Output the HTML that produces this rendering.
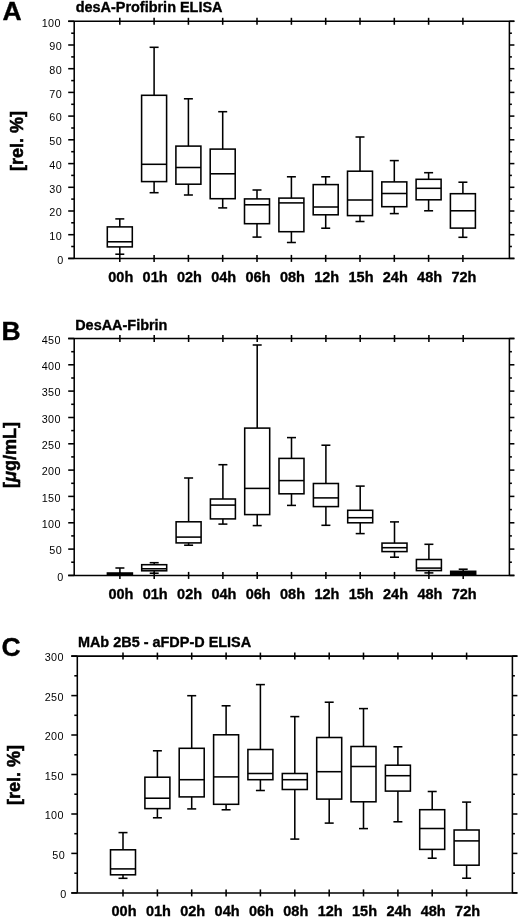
<!DOCTYPE html>
<html><head><meta charset="utf-8"><title>Figure</title>
<style>
html,body{margin:0;padding:0;background:#fff;}
body{width:520px;height:918px;overflow:hidden;}
svg{display:block;will-change:transform;font-family:"Liberation Sans",sans-serif;}
svg line, svg rect{stroke:#000;}
svg text{fill:#000;}
svg text.hv{stroke:#000;stroke-width:0.35px;}
svg text.yl{stroke-width:0.55px;}
</style></head><body>
<svg width="520" height="918" viewBox="0 0 520 918">
<rect x="0" y="0" width="520" height="918" fill="#fff" stroke="none" style="stroke:none"/>
<text x="2.6" y="19.6" font-size="26.5" font-weight="bold" text-anchor="start" class="hv">A</text>
<text x="75.7" y="12.3" font-size="14.45" font-weight="bold" text-anchor="start" class="hv">desA-Profibrin ELISA</text>
<line x1="68.2" y1="21.3" x2="514.4" y2="21.3" stroke-width="1.55"/>
<line x1="68.2" y1="258.4" x2="514.4" y2="258.4" stroke-width="1.55"/>
<line x1="74.2" y1="21.3" x2="74.2" y2="258.4" stroke-width="1.55"/>
<line x1="509.4" y1="21.3" x2="509.4" y2="258.4" stroke-width="1.55"/>
<line x1="68.2" y1="258.4" x2="74.2" y2="258.4" stroke-width="1.55"/>
<line x1="509.4" y1="258.4" x2="514.4" y2="258.4" stroke-width="1.55"/>
<text x="63.6" y="263.6" font-size="10.8" font-weight="normal" text-anchor="end" letter-spacing="0.45">0</text>
<line x1="71.2" y1="246.5" x2="74.2" y2="246.5" stroke-width="1.55"/>
<line x1="509.4" y1="246.5" x2="511.9" y2="246.5" stroke-width="1.55"/>
<line x1="68.2" y1="234.7" x2="74.2" y2="234.7" stroke-width="1.55"/>
<line x1="509.4" y1="234.7" x2="514.4" y2="234.7" stroke-width="1.55"/>
<text x="62.1" y="239.9" font-size="10.8" font-weight="normal" text-anchor="end" letter-spacing="0.45">10</text>
<line x1="71.2" y1="222.8" x2="74.2" y2="222.8" stroke-width="1.55"/>
<line x1="509.4" y1="222.8" x2="511.9" y2="222.8" stroke-width="1.55"/>
<line x1="68.2" y1="211.0" x2="74.2" y2="211.0" stroke-width="1.55"/>
<line x1="509.4" y1="211.0" x2="514.4" y2="211.0" stroke-width="1.55"/>
<text x="62.1" y="216.2" font-size="10.8" font-weight="normal" text-anchor="end" letter-spacing="0.45">20</text>
<line x1="71.2" y1="199.1" x2="74.2" y2="199.1" stroke-width="1.55"/>
<line x1="509.4" y1="199.1" x2="511.9" y2="199.1" stroke-width="1.55"/>
<line x1="68.2" y1="187.3" x2="74.2" y2="187.3" stroke-width="1.55"/>
<line x1="509.4" y1="187.3" x2="514.4" y2="187.3" stroke-width="1.55"/>
<text x="62.1" y="192.5" font-size="10.8" font-weight="normal" text-anchor="end" letter-spacing="0.45">30</text>
<line x1="71.2" y1="175.4" x2="74.2" y2="175.4" stroke-width="1.55"/>
<line x1="509.4" y1="175.4" x2="511.9" y2="175.4" stroke-width="1.55"/>
<line x1="68.2" y1="163.6" x2="74.2" y2="163.6" stroke-width="1.55"/>
<line x1="509.4" y1="163.6" x2="514.4" y2="163.6" stroke-width="1.55"/>
<text x="62.1" y="168.8" font-size="10.8" font-weight="normal" text-anchor="end" letter-spacing="0.45">40</text>
<line x1="71.2" y1="151.7" x2="74.2" y2="151.7" stroke-width="1.55"/>
<line x1="509.4" y1="151.7" x2="511.9" y2="151.7" stroke-width="1.55"/>
<line x1="68.2" y1="139.8" x2="74.2" y2="139.8" stroke-width="1.55"/>
<line x1="509.4" y1="139.8" x2="514.4" y2="139.8" stroke-width="1.55"/>
<text x="62.1" y="145.0" font-size="10.8" font-weight="normal" text-anchor="end" letter-spacing="0.45">50</text>
<line x1="71.2" y1="128.0" x2="74.2" y2="128.0" stroke-width="1.55"/>
<line x1="509.4" y1="128.0" x2="511.9" y2="128.0" stroke-width="1.55"/>
<line x1="68.2" y1="116.1" x2="74.2" y2="116.1" stroke-width="1.55"/>
<line x1="509.4" y1="116.1" x2="514.4" y2="116.1" stroke-width="1.55"/>
<text x="62.1" y="121.3" font-size="10.8" font-weight="normal" text-anchor="end" letter-spacing="0.45">60</text>
<line x1="71.2" y1="104.3" x2="74.2" y2="104.3" stroke-width="1.55"/>
<line x1="509.4" y1="104.3" x2="511.9" y2="104.3" stroke-width="1.55"/>
<line x1="68.2" y1="92.4" x2="74.2" y2="92.4" stroke-width="1.55"/>
<line x1="509.4" y1="92.4" x2="514.4" y2="92.4" stroke-width="1.55"/>
<text x="62.1" y="97.6" font-size="10.8" font-weight="normal" text-anchor="end" letter-spacing="0.45">70</text>
<line x1="71.2" y1="80.6" x2="74.2" y2="80.6" stroke-width="1.55"/>
<line x1="509.4" y1="80.6" x2="511.9" y2="80.6" stroke-width="1.55"/>
<line x1="68.2" y1="68.7" x2="74.2" y2="68.7" stroke-width="1.55"/>
<line x1="509.4" y1="68.7" x2="514.4" y2="68.7" stroke-width="1.55"/>
<text x="62.1" y="73.9" font-size="10.8" font-weight="normal" text-anchor="end" letter-spacing="0.45">80</text>
<line x1="71.2" y1="56.9" x2="74.2" y2="56.9" stroke-width="1.55"/>
<line x1="509.4" y1="56.9" x2="511.9" y2="56.9" stroke-width="1.55"/>
<line x1="68.2" y1="45.0" x2="74.2" y2="45.0" stroke-width="1.55"/>
<line x1="509.4" y1="45.0" x2="514.4" y2="45.0" stroke-width="1.55"/>
<text x="62.1" y="50.2" font-size="10.8" font-weight="normal" text-anchor="end" letter-spacing="0.45">90</text>
<line x1="71.2" y1="33.2" x2="74.2" y2="33.2" stroke-width="1.55"/>
<line x1="509.4" y1="33.2" x2="511.9" y2="33.2" stroke-width="1.55"/>
<line x1="68.2" y1="21.3" x2="74.2" y2="21.3" stroke-width="1.55"/>
<line x1="509.4" y1="21.3" x2="514.4" y2="21.3" stroke-width="1.55"/>
<text x="61.0" y="26.5" font-size="10.8" font-weight="normal" text-anchor="end" letter-spacing="0.45">100</text>
<line x1="119.8" y1="17.8" x2="119.8" y2="24.8" stroke-width="1.55"/>
<line x1="119.8" y1="254.9" x2="119.8" y2="261.9" stroke-width="1.55"/>
<text x="120.8" y="281.5" font-size="14.5" font-weight="bold" text-anchor="middle" class="hv">00h</text>
<line x1="154.1" y1="17.8" x2="154.1" y2="24.8" stroke-width="1.55"/>
<line x1="154.1" y1="254.9" x2="154.1" y2="261.9" stroke-width="1.55"/>
<text x="155.1" y="281.5" font-size="14.5" font-weight="bold" text-anchor="middle" class="hv">01h</text>
<line x1="188.4" y1="17.8" x2="188.4" y2="24.8" stroke-width="1.55"/>
<line x1="188.4" y1="254.9" x2="188.4" y2="261.9" stroke-width="1.55"/>
<text x="189.4" y="281.5" font-size="14.5" font-weight="bold" text-anchor="middle" class="hv">02h</text>
<line x1="222.7" y1="17.8" x2="222.7" y2="24.8" stroke-width="1.55"/>
<line x1="222.7" y1="254.9" x2="222.7" y2="261.9" stroke-width="1.55"/>
<text x="223.7" y="281.5" font-size="14.5" font-weight="bold" text-anchor="middle" class="hv">04h</text>
<line x1="257.0" y1="17.8" x2="257.0" y2="24.8" stroke-width="1.55"/>
<line x1="257.0" y1="254.9" x2="257.0" y2="261.9" stroke-width="1.55"/>
<text x="258.0" y="281.5" font-size="14.5" font-weight="bold" text-anchor="middle" class="hv">06h</text>
<line x1="291.4" y1="17.8" x2="291.4" y2="24.8" stroke-width="1.55"/>
<line x1="291.4" y1="254.9" x2="291.4" y2="261.9" stroke-width="1.55"/>
<text x="292.4" y="281.5" font-size="14.5" font-weight="bold" text-anchor="middle" class="hv">08h</text>
<line x1="325.7" y1="17.8" x2="325.7" y2="24.8" stroke-width="1.55"/>
<line x1="325.7" y1="254.9" x2="325.7" y2="261.9" stroke-width="1.55"/>
<text x="326.7" y="281.5" font-size="14.5" font-weight="bold" text-anchor="middle" class="hv">12h</text>
<line x1="360.0" y1="17.8" x2="360.0" y2="24.8" stroke-width="1.55"/>
<line x1="360.0" y1="254.9" x2="360.0" y2="261.9" stroke-width="1.55"/>
<text x="361.0" y="281.5" font-size="14.5" font-weight="bold" text-anchor="middle" class="hv">15h</text>
<line x1="394.3" y1="17.8" x2="394.3" y2="24.8" stroke-width="1.55"/>
<line x1="394.3" y1="254.9" x2="394.3" y2="261.9" stroke-width="1.55"/>
<text x="395.3" y="281.5" font-size="14.5" font-weight="bold" text-anchor="middle" class="hv">24h</text>
<line x1="428.6" y1="17.8" x2="428.6" y2="24.8" stroke-width="1.55"/>
<line x1="428.6" y1="254.9" x2="428.6" y2="261.9" stroke-width="1.55"/>
<text x="429.6" y="281.5" font-size="14.5" font-weight="bold" text-anchor="middle" class="hv">48h</text>
<line x1="462.9" y1="17.8" x2="462.9" y2="24.8" stroke-width="1.55"/>
<line x1="462.9" y1="254.9" x2="462.9" y2="261.9" stroke-width="1.55"/>
<text x="463.9" y="281.5" font-size="14.5" font-weight="bold" text-anchor="middle" class="hv">72h</text>
<text transform="translate(23.1,141) rotate(-90)" font-size="18" font-weight="bold" text-anchor="middle" class="hv yl">[rel. %]</text>
<line x1="119.8" y1="218.9" x2="119.8" y2="226.9" stroke-width="1.55"/>
<line x1="115.3" y1="218.9" x2="124.3" y2="218.9" stroke-width="1.55"/>
<line x1="119.8" y1="246.9" x2="119.8" y2="254.2" stroke-width="1.55"/>
<line x1="115.3" y1="254.2" x2="124.3" y2="254.2" stroke-width="1.55"/>
<rect x="107.3" y="226.9" width="25.0" height="20.0" fill="none" stroke-width="1.55"/>
<line x1="107.3" y1="241.8" x2="132.3" y2="241.8" stroke-width="1.55"/>
<line x1="154.1" y1="47.3" x2="154.1" y2="95.3" stroke-width="1.55"/>
<line x1="149.6" y1="47.3" x2="158.6" y2="47.3" stroke-width="1.55"/>
<line x1="154.1" y1="181.6" x2="154.1" y2="192.7" stroke-width="1.55"/>
<line x1="149.6" y1="192.7" x2="158.6" y2="192.7" stroke-width="1.55"/>
<rect x="141.6" y="95.3" width="25.0" height="86.3" fill="none" stroke-width="1.55"/>
<line x1="141.6" y1="164.3" x2="166.6" y2="164.3" stroke-width="1.55"/>
<line x1="188.4" y1="98.8" x2="188.4" y2="146.1" stroke-width="1.55"/>
<line x1="183.9" y1="98.8" x2="192.9" y2="98.8" stroke-width="1.55"/>
<line x1="188.4" y1="184.2" x2="188.4" y2="195.0" stroke-width="1.55"/>
<line x1="183.9" y1="195.0" x2="192.9" y2="195.0" stroke-width="1.55"/>
<rect x="175.9" y="146.1" width="25.0" height="38.1" fill="none" stroke-width="1.55"/>
<line x1="175.9" y1="167.5" x2="200.9" y2="167.5" stroke-width="1.55"/>
<line x1="222.7" y1="111.7" x2="222.7" y2="149.1" stroke-width="1.55"/>
<line x1="218.2" y1="111.7" x2="227.2" y2="111.7" stroke-width="1.55"/>
<line x1="222.7" y1="198.7" x2="222.7" y2="207.9" stroke-width="1.55"/>
<line x1="218.2" y1="207.9" x2="227.2" y2="207.9" stroke-width="1.55"/>
<rect x="210.2" y="149.1" width="25.0" height="49.6" fill="none" stroke-width="1.55"/>
<line x1="210.2" y1="173.8" x2="235.2" y2="173.8" stroke-width="1.55"/>
<line x1="257.0" y1="190.0" x2="257.0" y2="198.9" stroke-width="1.55"/>
<line x1="252.5" y1="190.0" x2="261.5" y2="190.0" stroke-width="1.55"/>
<line x1="257.0" y1="223.7" x2="257.0" y2="237.1" stroke-width="1.55"/>
<line x1="252.5" y1="237.1" x2="261.5" y2="237.1" stroke-width="1.55"/>
<rect x="244.5" y="198.9" width="25.0" height="24.8" fill="none" stroke-width="1.55"/>
<line x1="244.5" y1="204.8" x2="269.5" y2="204.8" stroke-width="1.55"/>
<line x1="291.4" y1="176.8" x2="291.4" y2="198.1" stroke-width="1.55"/>
<line x1="286.9" y1="176.8" x2="295.9" y2="176.8" stroke-width="1.55"/>
<line x1="291.4" y1="231.7" x2="291.4" y2="242.5" stroke-width="1.55"/>
<line x1="286.9" y1="242.5" x2="295.9" y2="242.5" stroke-width="1.55"/>
<rect x="278.9" y="198.1" width="25.0" height="33.6" fill="none" stroke-width="1.55"/>
<line x1="278.9" y1="202.9" x2="303.9" y2="202.9" stroke-width="1.55"/>
<line x1="325.7" y1="176.8" x2="325.7" y2="184.6" stroke-width="1.55"/>
<line x1="321.2" y1="176.8" x2="330.2" y2="176.8" stroke-width="1.55"/>
<line x1="325.7" y1="214.8" x2="325.7" y2="228.2" stroke-width="1.55"/>
<line x1="321.2" y1="228.2" x2="330.2" y2="228.2" stroke-width="1.55"/>
<rect x="313.2" y="184.6" width="25.0" height="30.2" fill="none" stroke-width="1.55"/>
<line x1="313.2" y1="207.0" x2="338.2" y2="207.0" stroke-width="1.55"/>
<line x1="360.0" y1="137.0" x2="360.0" y2="171.2" stroke-width="1.55"/>
<line x1="355.5" y1="137.0" x2="364.5" y2="137.0" stroke-width="1.55"/>
<line x1="360.0" y1="215.6" x2="360.0" y2="221.5" stroke-width="1.55"/>
<line x1="355.5" y1="221.5" x2="364.5" y2="221.5" stroke-width="1.55"/>
<rect x="347.5" y="171.2" width="25.0" height="44.4" fill="none" stroke-width="1.55"/>
<line x1="347.5" y1="200.0" x2="372.5" y2="200.0" stroke-width="1.55"/>
<line x1="394.3" y1="160.6" x2="394.3" y2="181.9" stroke-width="1.55"/>
<line x1="389.8" y1="160.6" x2="398.8" y2="160.6" stroke-width="1.55"/>
<line x1="394.3" y1="206.7" x2="394.3" y2="213.6" stroke-width="1.55"/>
<line x1="389.8" y1="213.6" x2="398.8" y2="213.6" stroke-width="1.55"/>
<rect x="381.8" y="181.9" width="25.0" height="24.8" fill="none" stroke-width="1.55"/>
<line x1="381.8" y1="193.5" x2="406.8" y2="193.5" stroke-width="1.55"/>
<line x1="428.6" y1="172.7" x2="428.6" y2="179.3" stroke-width="1.55"/>
<line x1="424.1" y1="172.7" x2="433.1" y2="172.7" stroke-width="1.55"/>
<line x1="428.6" y1="199.8" x2="428.6" y2="210.8" stroke-width="1.55"/>
<line x1="424.1" y1="210.8" x2="433.1" y2="210.8" stroke-width="1.55"/>
<rect x="416.1" y="179.3" width="25.0" height="20.5" fill="none" stroke-width="1.55"/>
<line x1="416.1" y1="188.3" x2="441.1" y2="188.3" stroke-width="1.55"/>
<line x1="462.9" y1="182.2" x2="462.9" y2="193.7" stroke-width="1.55"/>
<line x1="458.4" y1="182.2" x2="467.4" y2="182.2" stroke-width="1.55"/>
<line x1="462.9" y1="228.1" x2="462.9" y2="237.3" stroke-width="1.55"/>
<line x1="458.4" y1="237.3" x2="467.4" y2="237.3" stroke-width="1.55"/>
<rect x="450.4" y="193.7" width="25.0" height="34.4" fill="none" stroke-width="1.55"/>
<line x1="450.4" y1="210.8" x2="475.4" y2="210.8" stroke-width="1.55"/>
<text x="1.4" y="340.0" font-size="26.5" font-weight="bold" text-anchor="start" class="hv">B</text>
<text x="75.2" y="329.7" font-size="14.45" font-weight="bold" text-anchor="start" class="hv">DesAA-Fibrin</text>
<line x1="68.2" y1="338.5" x2="514.4" y2="338.5" stroke-width="1.55"/>
<line x1="68.2" y1="575.4" x2="514.4" y2="575.4" stroke-width="1.55"/>
<line x1="74.2" y1="338.5" x2="74.2" y2="575.4" stroke-width="1.55"/>
<line x1="509.4" y1="338.5" x2="509.4" y2="575.4" stroke-width="1.55"/>
<line x1="68.2" y1="575.4" x2="74.2" y2="575.4" stroke-width="1.55"/>
<line x1="509.4" y1="575.4" x2="514.4" y2="575.4" stroke-width="1.55"/>
<text x="63.6" y="580.6" font-size="10.8" font-weight="normal" text-anchor="end" letter-spacing="0.45">0</text>
<line x1="71.2" y1="562.2" x2="74.2" y2="562.2" stroke-width="1.55"/>
<line x1="509.4" y1="562.2" x2="511.9" y2="562.2" stroke-width="1.55"/>
<line x1="68.2" y1="549.1" x2="74.2" y2="549.1" stroke-width="1.55"/>
<line x1="509.4" y1="549.1" x2="514.4" y2="549.1" stroke-width="1.55"/>
<text x="62.1" y="554.3" font-size="10.8" font-weight="normal" text-anchor="end" letter-spacing="0.45">50</text>
<line x1="71.2" y1="535.9" x2="74.2" y2="535.9" stroke-width="1.55"/>
<line x1="509.4" y1="535.9" x2="511.9" y2="535.9" stroke-width="1.55"/>
<line x1="68.2" y1="522.8" x2="74.2" y2="522.8" stroke-width="1.55"/>
<line x1="509.4" y1="522.8" x2="514.4" y2="522.8" stroke-width="1.55"/>
<text x="61.0" y="528.0" font-size="10.8" font-weight="normal" text-anchor="end" letter-spacing="0.45">100</text>
<line x1="71.2" y1="509.6" x2="74.2" y2="509.6" stroke-width="1.55"/>
<line x1="509.4" y1="509.6" x2="511.9" y2="509.6" stroke-width="1.55"/>
<line x1="68.2" y1="496.4" x2="74.2" y2="496.4" stroke-width="1.55"/>
<line x1="509.4" y1="496.4" x2="514.4" y2="496.4" stroke-width="1.55"/>
<text x="61.0" y="501.6" font-size="10.8" font-weight="normal" text-anchor="end" letter-spacing="0.45">150</text>
<line x1="71.2" y1="483.3" x2="74.2" y2="483.3" stroke-width="1.55"/>
<line x1="509.4" y1="483.3" x2="511.9" y2="483.3" stroke-width="1.55"/>
<line x1="68.2" y1="470.1" x2="74.2" y2="470.1" stroke-width="1.55"/>
<line x1="509.4" y1="470.1" x2="514.4" y2="470.1" stroke-width="1.55"/>
<text x="61.0" y="475.3" font-size="10.8" font-weight="normal" text-anchor="end" letter-spacing="0.45">200</text>
<line x1="71.2" y1="456.9" x2="74.2" y2="456.9" stroke-width="1.55"/>
<line x1="509.4" y1="456.9" x2="511.9" y2="456.9" stroke-width="1.55"/>
<line x1="68.2" y1="443.8" x2="74.2" y2="443.8" stroke-width="1.55"/>
<line x1="509.4" y1="443.8" x2="514.4" y2="443.8" stroke-width="1.55"/>
<text x="61.0" y="449.0" font-size="10.8" font-weight="normal" text-anchor="end" letter-spacing="0.45">250</text>
<line x1="71.2" y1="430.6" x2="74.2" y2="430.6" stroke-width="1.55"/>
<line x1="509.4" y1="430.6" x2="511.9" y2="430.6" stroke-width="1.55"/>
<line x1="68.2" y1="417.5" x2="74.2" y2="417.5" stroke-width="1.55"/>
<line x1="509.4" y1="417.5" x2="514.4" y2="417.5" stroke-width="1.55"/>
<text x="61.0" y="422.7" font-size="10.8" font-weight="normal" text-anchor="end" letter-spacing="0.45">300</text>
<line x1="71.2" y1="404.3" x2="74.2" y2="404.3" stroke-width="1.55"/>
<line x1="509.4" y1="404.3" x2="511.9" y2="404.3" stroke-width="1.55"/>
<line x1="68.2" y1="391.1" x2="74.2" y2="391.1" stroke-width="1.55"/>
<line x1="509.4" y1="391.1" x2="514.4" y2="391.1" stroke-width="1.55"/>
<text x="61.0" y="396.3" font-size="10.8" font-weight="normal" text-anchor="end" letter-spacing="0.45">350</text>
<line x1="71.2" y1="378.0" x2="74.2" y2="378.0" stroke-width="1.55"/>
<line x1="509.4" y1="378.0" x2="511.9" y2="378.0" stroke-width="1.55"/>
<line x1="68.2" y1="364.8" x2="74.2" y2="364.8" stroke-width="1.55"/>
<line x1="509.4" y1="364.8" x2="514.4" y2="364.8" stroke-width="1.55"/>
<text x="61.0" y="370.0" font-size="10.8" font-weight="normal" text-anchor="end" letter-spacing="0.45">400</text>
<line x1="71.2" y1="351.7" x2="74.2" y2="351.7" stroke-width="1.55"/>
<line x1="509.4" y1="351.7" x2="511.9" y2="351.7" stroke-width="1.55"/>
<line x1="68.2" y1="338.5" x2="74.2" y2="338.5" stroke-width="1.55"/>
<line x1="509.4" y1="338.5" x2="514.4" y2="338.5" stroke-width="1.55"/>
<text x="61.0" y="343.7" font-size="10.8" font-weight="normal" text-anchor="end" letter-spacing="0.45">450</text>
<line x1="119.9" y1="335.0" x2="119.9" y2="342.0" stroke-width="1.55"/>
<line x1="119.9" y1="571.9" x2="119.9" y2="578.9" stroke-width="1.55"/>
<text x="120.9" y="598.5" font-size="14.5" font-weight="bold" text-anchor="middle" class="hv">00h</text>
<line x1="154.2" y1="335.0" x2="154.2" y2="342.0" stroke-width="1.55"/>
<line x1="154.2" y1="571.9" x2="154.2" y2="578.9" stroke-width="1.55"/>
<text x="155.2" y="598.5" font-size="14.5" font-weight="bold" text-anchor="middle" class="hv">01h</text>
<line x1="188.6" y1="335.0" x2="188.6" y2="342.0" stroke-width="1.55"/>
<line x1="188.6" y1="571.9" x2="188.6" y2="578.9" stroke-width="1.55"/>
<text x="189.6" y="598.5" font-size="14.5" font-weight="bold" text-anchor="middle" class="hv">02h</text>
<line x1="222.9" y1="335.0" x2="222.9" y2="342.0" stroke-width="1.55"/>
<line x1="222.9" y1="571.9" x2="222.9" y2="578.9" stroke-width="1.55"/>
<text x="223.9" y="598.5" font-size="14.5" font-weight="bold" text-anchor="middle" class="hv">04h</text>
<line x1="257.2" y1="335.0" x2="257.2" y2="342.0" stroke-width="1.55"/>
<line x1="257.2" y1="571.9" x2="257.2" y2="578.9" stroke-width="1.55"/>
<text x="258.2" y="598.5" font-size="14.5" font-weight="bold" text-anchor="middle" class="hv">06h</text>
<line x1="291.5" y1="335.0" x2="291.5" y2="342.0" stroke-width="1.55"/>
<line x1="291.5" y1="571.9" x2="291.5" y2="578.9" stroke-width="1.55"/>
<text x="292.5" y="598.5" font-size="14.5" font-weight="bold" text-anchor="middle" class="hv">08h</text>
<line x1="325.9" y1="335.0" x2="325.9" y2="342.0" stroke-width="1.55"/>
<line x1="325.9" y1="571.9" x2="325.9" y2="578.9" stroke-width="1.55"/>
<text x="326.9" y="598.5" font-size="14.5" font-weight="bold" text-anchor="middle" class="hv">12h</text>
<line x1="360.2" y1="335.0" x2="360.2" y2="342.0" stroke-width="1.55"/>
<line x1="360.2" y1="571.9" x2="360.2" y2="578.9" stroke-width="1.55"/>
<text x="361.2" y="598.5" font-size="14.5" font-weight="bold" text-anchor="middle" class="hv">15h</text>
<line x1="394.5" y1="335.0" x2="394.5" y2="342.0" stroke-width="1.55"/>
<line x1="394.5" y1="571.9" x2="394.5" y2="578.9" stroke-width="1.55"/>
<text x="395.5" y="598.5" font-size="14.5" font-weight="bold" text-anchor="middle" class="hv">24h</text>
<line x1="428.9" y1="335.0" x2="428.9" y2="342.0" stroke-width="1.55"/>
<line x1="428.9" y1="571.9" x2="428.9" y2="578.9" stroke-width="1.55"/>
<text x="429.9" y="598.5" font-size="14.5" font-weight="bold" text-anchor="middle" class="hv">48h</text>
<line x1="463.2" y1="335.0" x2="463.2" y2="342.0" stroke-width="1.55"/>
<line x1="463.2" y1="571.9" x2="463.2" y2="578.9" stroke-width="1.55"/>
<text x="464.2" y="598.5" font-size="14.5" font-weight="bold" text-anchor="middle" class="hv">72h</text>
<text transform="translate(16.2,455) rotate(-90)" font-size="18" font-weight="bold" text-anchor="middle" class="hv yl">[<tspan font-style="italic">μ</tspan>g/mL]</text>
<line x1="119.9" y1="568.0" x2="119.9" y2="573.0" stroke-width="1.55"/>
<line x1="115.4" y1="568.0" x2="124.4" y2="568.0" stroke-width="1.55"/>
<rect x="107.4" y="573.0" width="25.0" height="2.0" fill="#000" stroke-width="1.55"/>
<line x1="154.2" y1="562.7" x2="154.2" y2="564.7" stroke-width="1.55"/>
<line x1="149.7" y1="562.7" x2="158.7" y2="562.7" stroke-width="1.55"/>
<line x1="154.2" y1="570.8" x2="154.2" y2="573.2" stroke-width="1.55"/>
<line x1="149.7" y1="573.2" x2="158.7" y2="573.2" stroke-width="1.55"/>
<rect x="141.7" y="564.7" width="25.0" height="6.1" fill="none" stroke-width="1.55"/>
<line x1="141.7" y1="568.8" x2="166.7" y2="568.8" stroke-width="1.55"/>
<line x1="188.6" y1="478.0" x2="188.6" y2="521.8" stroke-width="1.55"/>
<line x1="184.1" y1="478.0" x2="193.1" y2="478.0" stroke-width="1.55"/>
<line x1="188.6" y1="542.9" x2="188.6" y2="545.2" stroke-width="1.55"/>
<line x1="184.1" y1="545.2" x2="193.1" y2="545.2" stroke-width="1.55"/>
<rect x="176.1" y="521.8" width="25.0" height="21.1" fill="none" stroke-width="1.55"/>
<line x1="176.1" y1="537.1" x2="201.1" y2="537.1" stroke-width="1.55"/>
<line x1="222.9" y1="464.7" x2="222.9" y2="499.0" stroke-width="1.55"/>
<line x1="218.4" y1="464.7" x2="227.4" y2="464.7" stroke-width="1.55"/>
<line x1="222.9" y1="518.9" x2="222.9" y2="524.1" stroke-width="1.55"/>
<line x1="218.4" y1="524.1" x2="227.4" y2="524.1" stroke-width="1.55"/>
<rect x="210.4" y="499.0" width="25.0" height="19.9" fill="none" stroke-width="1.55"/>
<line x1="210.4" y1="505.1" x2="235.4" y2="505.1" stroke-width="1.55"/>
<line x1="257.2" y1="345.0" x2="257.2" y2="428.1" stroke-width="1.55"/>
<line x1="252.7" y1="345.0" x2="261.7" y2="345.0" stroke-width="1.55"/>
<line x1="257.2" y1="514.6" x2="257.2" y2="525.6" stroke-width="1.55"/>
<line x1="252.7" y1="525.6" x2="261.7" y2="525.6" stroke-width="1.55"/>
<rect x="244.7" y="428.1" width="25.0" height="86.5" fill="none" stroke-width="1.55"/>
<line x1="244.7" y1="488.4" x2="269.7" y2="488.4" stroke-width="1.55"/>
<line x1="291.5" y1="437.6" x2="291.5" y2="458.4" stroke-width="1.55"/>
<line x1="287.0" y1="437.6" x2="296.0" y2="437.6" stroke-width="1.55"/>
<line x1="291.5" y1="493.8" x2="291.5" y2="505.4" stroke-width="1.55"/>
<line x1="287.0" y1="505.4" x2="296.0" y2="505.4" stroke-width="1.55"/>
<rect x="279.0" y="458.4" width="25.0" height="35.4" fill="none" stroke-width="1.55"/>
<line x1="279.0" y1="480.6" x2="304.0" y2="480.6" stroke-width="1.55"/>
<line x1="325.9" y1="445.2" x2="325.9" y2="483.5" stroke-width="1.55"/>
<line x1="321.4" y1="445.2" x2="330.4" y2="445.2" stroke-width="1.55"/>
<line x1="325.9" y1="506.6" x2="325.9" y2="525.3" stroke-width="1.55"/>
<line x1="321.4" y1="525.3" x2="330.4" y2="525.3" stroke-width="1.55"/>
<rect x="313.4" y="483.5" width="25.0" height="23.1" fill="none" stroke-width="1.55"/>
<line x1="313.4" y1="497.9" x2="338.4" y2="497.9" stroke-width="1.55"/>
<line x1="360.2" y1="486.1" x2="360.2" y2="510.3" stroke-width="1.55"/>
<line x1="355.7" y1="486.1" x2="364.7" y2="486.1" stroke-width="1.55"/>
<line x1="360.2" y1="522.8" x2="360.2" y2="533.6" stroke-width="1.55"/>
<line x1="355.7" y1="533.6" x2="364.7" y2="533.6" stroke-width="1.55"/>
<rect x="347.7" y="510.3" width="25.0" height="12.5" fill="none" stroke-width="1.55"/>
<line x1="347.7" y1="517.7" x2="372.7" y2="517.7" stroke-width="1.55"/>
<line x1="394.5" y1="521.9" x2="394.5" y2="543.1" stroke-width="1.55"/>
<line x1="390.0" y1="521.9" x2="399.0" y2="521.9" stroke-width="1.55"/>
<line x1="394.5" y1="551.6" x2="394.5" y2="557.2" stroke-width="1.55"/>
<line x1="390.0" y1="557.2" x2="399.0" y2="557.2" stroke-width="1.55"/>
<rect x="382.0" y="543.1" width="25.0" height="8.5" fill="none" stroke-width="1.55"/>
<line x1="382.0" y1="547.7" x2="407.0" y2="547.7" stroke-width="1.55"/>
<line x1="428.9" y1="544.3" x2="428.9" y2="559.5" stroke-width="1.55"/>
<line x1="424.4" y1="544.3" x2="433.4" y2="544.3" stroke-width="1.55"/>
<line x1="428.9" y1="570.6" x2="428.9" y2="572.9" stroke-width="1.55"/>
<line x1="424.4" y1="572.9" x2="433.4" y2="572.9" stroke-width="1.55"/>
<rect x="416.4" y="559.5" width="25.0" height="11.1" fill="none" stroke-width="1.55"/>
<line x1="416.4" y1="568.1" x2="441.4" y2="568.1" stroke-width="1.55"/>
<line x1="463.2" y1="569.2" x2="463.2" y2="571.3" stroke-width="1.55"/>
<line x1="458.7" y1="569.2" x2="467.7" y2="569.2" stroke-width="1.55"/>
<rect x="450.7" y="571.3" width="25.0" height="3.7" fill="#000" stroke-width="1.55"/>
<text x="1.4" y="656.2" font-size="26.5" font-weight="bold" text-anchor="start" class="hv">C</text>
<text x="77.9" y="646.6" font-size="14.45" font-weight="bold" text-anchor="start" class="hv">MAb 2B5 - aFDP-D ELISA</text>
<line x1="71.3" y1="656.1" x2="517.4" y2="656.1" stroke-width="1.55"/>
<line x1="71.3" y1="892.9" x2="517.4" y2="892.9" stroke-width="1.55"/>
<line x1="77.3" y1="656.1" x2="77.3" y2="892.9" stroke-width="1.55"/>
<line x1="512.4" y1="656.1" x2="512.4" y2="892.9" stroke-width="1.55"/>
<line x1="71.3" y1="892.9" x2="77.3" y2="892.9" stroke-width="1.55"/>
<line x1="512.4" y1="892.9" x2="517.4" y2="892.9" stroke-width="1.55"/>
<text x="66.6" y="898.1" font-size="10.8" font-weight="normal" text-anchor="end" letter-spacing="0.45">0</text>
<line x1="74.3" y1="873.2" x2="77.3" y2="873.2" stroke-width="1.55"/>
<line x1="512.4" y1="873.2" x2="514.9" y2="873.2" stroke-width="1.55"/>
<line x1="71.3" y1="853.4" x2="77.3" y2="853.4" stroke-width="1.55"/>
<line x1="512.4" y1="853.4" x2="517.4" y2="853.4" stroke-width="1.55"/>
<text x="65.1" y="858.6" font-size="10.8" font-weight="normal" text-anchor="end" letter-spacing="0.45">50</text>
<line x1="74.3" y1="833.7" x2="77.3" y2="833.7" stroke-width="1.55"/>
<line x1="512.4" y1="833.7" x2="514.9" y2="833.7" stroke-width="1.55"/>
<line x1="71.3" y1="814.0" x2="77.3" y2="814.0" stroke-width="1.55"/>
<line x1="512.4" y1="814.0" x2="517.4" y2="814.0" stroke-width="1.55"/>
<text x="64.0" y="819.2" font-size="10.8" font-weight="normal" text-anchor="end" letter-spacing="0.45">100</text>
<line x1="74.3" y1="794.2" x2="77.3" y2="794.2" stroke-width="1.55"/>
<line x1="512.4" y1="794.2" x2="514.9" y2="794.2" stroke-width="1.55"/>
<line x1="71.3" y1="774.5" x2="77.3" y2="774.5" stroke-width="1.55"/>
<line x1="512.4" y1="774.5" x2="517.4" y2="774.5" stroke-width="1.55"/>
<text x="64.0" y="779.7" font-size="10.8" font-weight="normal" text-anchor="end" letter-spacing="0.45">150</text>
<line x1="74.3" y1="754.8" x2="77.3" y2="754.8" stroke-width="1.55"/>
<line x1="512.4" y1="754.8" x2="514.9" y2="754.8" stroke-width="1.55"/>
<line x1="71.3" y1="735.0" x2="77.3" y2="735.0" stroke-width="1.55"/>
<line x1="512.4" y1="735.0" x2="517.4" y2="735.0" stroke-width="1.55"/>
<text x="64.0" y="740.2" font-size="10.8" font-weight="normal" text-anchor="end" letter-spacing="0.45">200</text>
<line x1="74.3" y1="715.3" x2="77.3" y2="715.3" stroke-width="1.55"/>
<line x1="512.4" y1="715.3" x2="514.9" y2="715.3" stroke-width="1.55"/>
<line x1="71.3" y1="695.6" x2="77.3" y2="695.6" stroke-width="1.55"/>
<line x1="512.4" y1="695.6" x2="517.4" y2="695.6" stroke-width="1.55"/>
<text x="64.0" y="700.8" font-size="10.8" font-weight="normal" text-anchor="end" letter-spacing="0.45">250</text>
<line x1="74.3" y1="675.8" x2="77.3" y2="675.8" stroke-width="1.55"/>
<line x1="512.4" y1="675.8" x2="514.9" y2="675.8" stroke-width="1.55"/>
<line x1="71.3" y1="656.1" x2="77.3" y2="656.1" stroke-width="1.55"/>
<line x1="512.4" y1="656.1" x2="517.4" y2="656.1" stroke-width="1.55"/>
<text x="64.0" y="661.3" font-size="10.8" font-weight="normal" text-anchor="end" letter-spacing="0.45">300</text>
<line x1="123.0" y1="652.6" x2="123.0" y2="659.6" stroke-width="1.55"/>
<line x1="123.0" y1="889.4" x2="123.0" y2="896.4" stroke-width="1.55"/>
<text x="124.0" y="916.0" font-size="14.5" font-weight="bold" text-anchor="middle" class="hv">00h</text>
<line x1="157.4" y1="652.6" x2="157.4" y2="659.6" stroke-width="1.55"/>
<line x1="157.4" y1="889.4" x2="157.4" y2="896.4" stroke-width="1.55"/>
<text x="158.4" y="916.0" font-size="14.5" font-weight="bold" text-anchor="middle" class="hv">01h</text>
<line x1="191.7" y1="652.6" x2="191.7" y2="659.6" stroke-width="1.55"/>
<line x1="191.7" y1="889.4" x2="191.7" y2="896.4" stroke-width="1.55"/>
<text x="192.7" y="916.0" font-size="14.5" font-weight="bold" text-anchor="middle" class="hv">02h</text>
<line x1="226.1" y1="652.6" x2="226.1" y2="659.6" stroke-width="1.55"/>
<line x1="226.1" y1="889.4" x2="226.1" y2="896.4" stroke-width="1.55"/>
<text x="227.1" y="916.0" font-size="14.5" font-weight="bold" text-anchor="middle" class="hv">04h</text>
<line x1="260.4" y1="652.6" x2="260.4" y2="659.6" stroke-width="1.55"/>
<line x1="260.4" y1="889.4" x2="260.4" y2="896.4" stroke-width="1.55"/>
<text x="261.4" y="916.0" font-size="14.5" font-weight="bold" text-anchor="middle" class="hv">06h</text>
<line x1="294.8" y1="652.6" x2="294.8" y2="659.6" stroke-width="1.55"/>
<line x1="294.8" y1="889.4" x2="294.8" y2="896.4" stroke-width="1.55"/>
<text x="295.8" y="916.0" font-size="14.5" font-weight="bold" text-anchor="middle" class="hv">08h</text>
<line x1="329.2" y1="652.6" x2="329.2" y2="659.6" stroke-width="1.55"/>
<line x1="329.2" y1="889.4" x2="329.2" y2="896.4" stroke-width="1.55"/>
<text x="330.2" y="916.0" font-size="14.5" font-weight="bold" text-anchor="middle" class="hv">12h</text>
<line x1="363.5" y1="652.6" x2="363.5" y2="659.6" stroke-width="1.55"/>
<line x1="363.5" y1="889.4" x2="363.5" y2="896.4" stroke-width="1.55"/>
<text x="364.5" y="916.0" font-size="14.5" font-weight="bold" text-anchor="middle" class="hv">15h</text>
<line x1="397.9" y1="652.6" x2="397.9" y2="659.6" stroke-width="1.55"/>
<line x1="397.9" y1="889.4" x2="397.9" y2="896.4" stroke-width="1.55"/>
<text x="398.9" y="916.0" font-size="14.5" font-weight="bold" text-anchor="middle" class="hv">24h</text>
<line x1="432.2" y1="652.6" x2="432.2" y2="659.6" stroke-width="1.55"/>
<line x1="432.2" y1="889.4" x2="432.2" y2="896.4" stroke-width="1.55"/>
<text x="433.2" y="916.0" font-size="14.5" font-weight="bold" text-anchor="middle" class="hv">48h</text>
<line x1="466.6" y1="652.6" x2="466.6" y2="659.6" stroke-width="1.55"/>
<line x1="466.6" y1="889.4" x2="466.6" y2="896.4" stroke-width="1.55"/>
<text x="467.6" y="916.0" font-size="14.5" font-weight="bold" text-anchor="middle" class="hv">72h</text>
<text transform="translate(20.1,775) rotate(-90)" font-size="18" font-weight="bold" text-anchor="middle" class="hv yl">[rel. %]</text>
<line x1="123.0" y1="832.6" x2="123.0" y2="849.8" stroke-width="1.55"/>
<line x1="118.5" y1="832.6" x2="127.5" y2="832.6" stroke-width="1.55"/>
<line x1="123.0" y1="874.8" x2="123.0" y2="878.3" stroke-width="1.55"/>
<line x1="118.5" y1="878.3" x2="127.5" y2="878.3" stroke-width="1.55"/>
<rect x="110.5" y="849.8" width="25.0" height="25.0" fill="none" stroke-width="1.55"/>
<line x1="110.5" y1="868.9" x2="135.5" y2="868.9" stroke-width="1.55"/>
<line x1="157.4" y1="750.8" x2="157.4" y2="777.2" stroke-width="1.55"/>
<line x1="152.9" y1="750.8" x2="161.9" y2="750.8" stroke-width="1.55"/>
<line x1="157.4" y1="808.6" x2="157.4" y2="817.8" stroke-width="1.55"/>
<line x1="152.9" y1="817.8" x2="161.9" y2="817.8" stroke-width="1.55"/>
<rect x="144.9" y="777.2" width="25.0" height="31.4" fill="none" stroke-width="1.55"/>
<line x1="144.9" y1="798.2" x2="169.9" y2="798.2" stroke-width="1.55"/>
<line x1="191.7" y1="695.7" x2="191.7" y2="748.3" stroke-width="1.55"/>
<line x1="187.2" y1="695.7" x2="196.2" y2="695.7" stroke-width="1.55"/>
<line x1="191.7" y1="796.9" x2="191.7" y2="808.9" stroke-width="1.55"/>
<line x1="187.2" y1="808.9" x2="196.2" y2="808.9" stroke-width="1.55"/>
<rect x="179.2" y="748.3" width="25.0" height="48.6" fill="none" stroke-width="1.55"/>
<line x1="179.2" y1="779.7" x2="204.2" y2="779.7" stroke-width="1.55"/>
<line x1="226.1" y1="705.8" x2="226.1" y2="734.8" stroke-width="1.55"/>
<line x1="221.6" y1="705.8" x2="230.6" y2="705.8" stroke-width="1.55"/>
<line x1="226.1" y1="804.3" x2="226.1" y2="809.8" stroke-width="1.55"/>
<line x1="221.6" y1="809.8" x2="230.6" y2="809.8" stroke-width="1.55"/>
<rect x="213.6" y="734.8" width="25.0" height="69.5" fill="none" stroke-width="1.55"/>
<line x1="213.6" y1="776.9" x2="238.6" y2="776.9" stroke-width="1.55"/>
<line x1="260.4" y1="684.6" x2="260.4" y2="749.5" stroke-width="1.55"/>
<line x1="255.9" y1="684.6" x2="264.9" y2="684.6" stroke-width="1.55"/>
<line x1="260.4" y1="779.7" x2="260.4" y2="790.5" stroke-width="1.55"/>
<line x1="255.9" y1="790.5" x2="264.9" y2="790.5" stroke-width="1.55"/>
<rect x="247.9" y="749.5" width="25.0" height="30.2" fill="none" stroke-width="1.55"/>
<line x1="247.9" y1="773.5" x2="272.9" y2="773.5" stroke-width="1.55"/>
<line x1="294.8" y1="716.6" x2="294.8" y2="773.5" stroke-width="1.55"/>
<line x1="290.3" y1="716.6" x2="299.3" y2="716.6" stroke-width="1.55"/>
<line x1="294.8" y1="789.5" x2="294.8" y2="839.1" stroke-width="1.55"/>
<line x1="290.3" y1="839.1" x2="299.3" y2="839.1" stroke-width="1.55"/>
<rect x="282.3" y="773.5" width="25.0" height="16.0" fill="none" stroke-width="1.55"/>
<line x1="282.3" y1="779.7" x2="307.3" y2="779.7" stroke-width="1.55"/>
<line x1="329.2" y1="702.2" x2="329.2" y2="737.5" stroke-width="1.55"/>
<line x1="324.7" y1="702.2" x2="333.7" y2="702.2" stroke-width="1.55"/>
<line x1="329.2" y1="799.1" x2="329.2" y2="823.1" stroke-width="1.55"/>
<line x1="324.7" y1="823.1" x2="333.7" y2="823.1" stroke-width="1.55"/>
<rect x="316.7" y="737.5" width="25.0" height="61.6" fill="none" stroke-width="1.55"/>
<line x1="316.7" y1="771.7" x2="341.7" y2="771.7" stroke-width="1.55"/>
<line x1="363.5" y1="708.6" x2="363.5" y2="746.5" stroke-width="1.55"/>
<line x1="359.0" y1="708.6" x2="368.0" y2="708.6" stroke-width="1.55"/>
<line x1="363.5" y1="801.8" x2="363.5" y2="828.6" stroke-width="1.55"/>
<line x1="359.0" y1="828.6" x2="368.0" y2="828.6" stroke-width="1.55"/>
<rect x="351.0" y="746.5" width="25.0" height="55.3" fill="none" stroke-width="1.55"/>
<line x1="351.0" y1="766.5" x2="376.0" y2="766.5" stroke-width="1.55"/>
<line x1="397.9" y1="746.8" x2="397.9" y2="765.2" stroke-width="1.55"/>
<line x1="393.4" y1="746.8" x2="402.4" y2="746.8" stroke-width="1.55"/>
<line x1="397.9" y1="791.1" x2="397.9" y2="821.8" stroke-width="1.55"/>
<line x1="393.4" y1="821.8" x2="402.4" y2="821.8" stroke-width="1.55"/>
<rect x="385.4" y="765.2" width="25.0" height="25.9" fill="none" stroke-width="1.55"/>
<line x1="385.4" y1="775.7" x2="410.4" y2="775.7" stroke-width="1.55"/>
<line x1="432.2" y1="791.5" x2="432.2" y2="809.7" stroke-width="1.55"/>
<line x1="427.7" y1="791.5" x2="436.7" y2="791.5" stroke-width="1.55"/>
<line x1="432.2" y1="849.4" x2="432.2" y2="858.2" stroke-width="1.55"/>
<line x1="427.7" y1="858.2" x2="436.7" y2="858.2" stroke-width="1.55"/>
<rect x="419.7" y="809.7" width="25.0" height="39.7" fill="none" stroke-width="1.55"/>
<line x1="419.7" y1="828.5" x2="444.7" y2="828.5" stroke-width="1.55"/>
<line x1="466.6" y1="802.1" x2="466.6" y2="830.0" stroke-width="1.55"/>
<line x1="462.1" y1="802.1" x2="471.1" y2="802.1" stroke-width="1.55"/>
<line x1="466.6" y1="865.2" x2="466.6" y2="878.2" stroke-width="1.55"/>
<line x1="462.1" y1="878.2" x2="471.1" y2="878.2" stroke-width="1.55"/>
<rect x="454.1" y="830.0" width="25.0" height="35.2" fill="none" stroke-width="1.55"/>
<line x1="454.1" y1="840.9" x2="479.1" y2="840.9" stroke-width="1.55"/>
</svg>
</body></html>
